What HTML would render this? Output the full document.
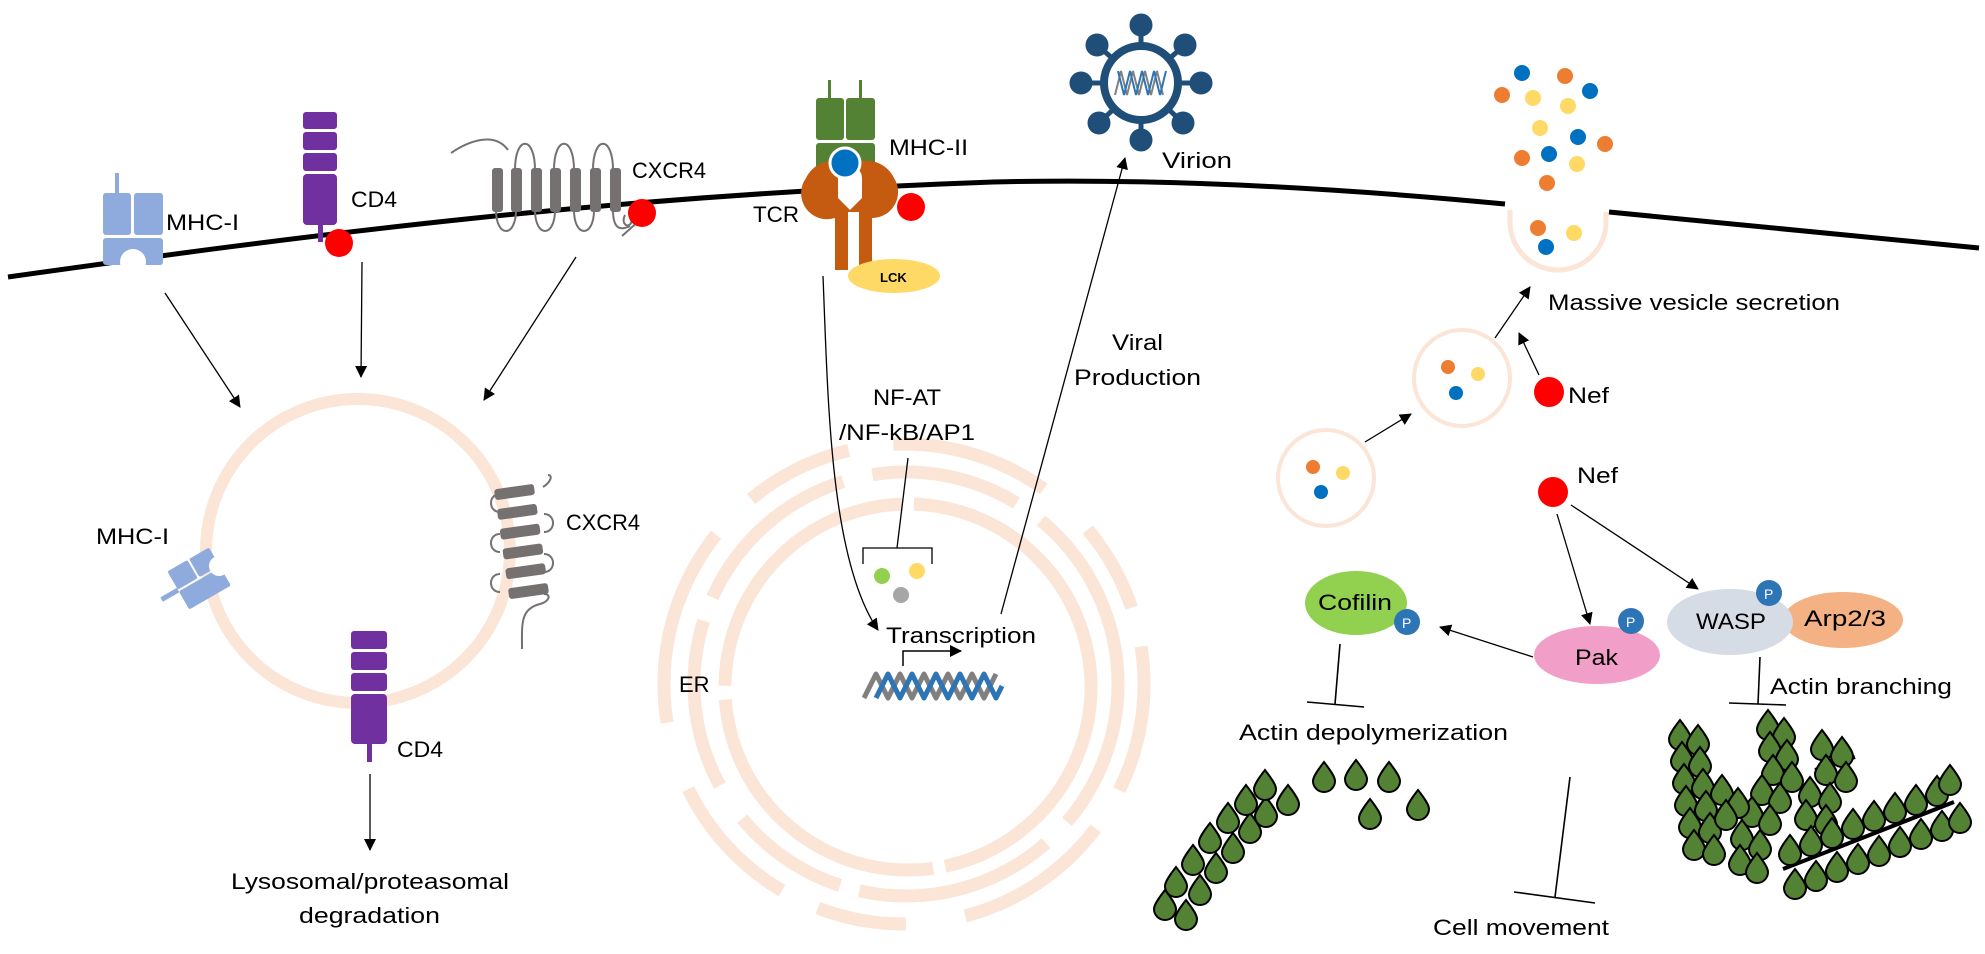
<!DOCTYPE html>
<html><head><style>
html,body{margin:0;padding:0;background:#fff}
svg{display:block}
svg text{font-family:"Liberation Sans",sans-serif;fill:#000;font-size:22px}
</style></head><body>
<svg width="1985" height="954" viewBox="0 0 1985 954" xmlns="http://www.w3.org/2000/svg">
<defs>
<marker id="a" markerWidth="12" markerHeight="12" refX="11" refY="6" orient="auto" markerUnits="userSpaceOnUse"><path d="M0,0L12,6L0,12z" fill="#000"/></marker>
<path id="leaf" d="M0,-15 C7,-6 11,0 11,4 A11,11 0 1 1 -11,4 C-11,0 -7,-6 0,-15z" fill="#548235" stroke="#000" stroke-width="2"/>
</defs>

<!-- membrane -->
<path d="M8,277 C300,236 600,196 993,182 C1200,177 1400,194 1505,204" fill="none" stroke="#000" stroke-width="5"/>
<path d="M1609,212 C1750,226 1880,238 1979,248" fill="none" stroke="#000" stroke-width="5"/>

<!-- endosome -->
<circle cx="358" cy="551" r="152" fill="none" stroke="#fbe5d6" stroke-width="12"/>

<!-- nucleus rings -->
<g fill="none" stroke="#fbe5d6" stroke-width="13">
<circle cx="908" cy="687" r="183" stroke-dasharray="250 12 300 14 280 12 300 14"/>
<circle cx="906" cy="684" r="212" stroke-dasharray="150 30 200 20 120 40 170 25 180 30"/>
<circle cx="904" cy="684" r="240" stroke-dasharray="110 45 160 60 90 40 140 70 200 50"/>
</g>
<text x="679" y="692">ER</text>

<!-- MHC-I membrane -->
<g fill="#8faadc">
<rect x="115" y="173" width="4" height="22"/>
<rect x="103" y="193" width="28" height="42" rx="3"/><rect x="134" y="193" width="29" height="42" rx="3"/>
<rect x="103" y="238" width="60" height="27" rx="3"/>
</g>
<circle cx="133" cy="262" r="13" fill="#fff"/>
<text x="166" y="230" textLength="73" lengthAdjust="spacingAndGlyphs">MHC-I</text>

<!-- CD4 -->
<g fill="#7030a0"><rect x="303" y="112" width="34" height="17" rx="3"/><rect x="303" y="132" width="34" height="18" rx="3"/><rect x="303" y="153" width="34" height="18" rx="3"/><rect x="303" y="174" width="34" height="51" rx="4"/><rect x="318" y="225" width="5" height="17"/></g>
<circle cx="339" cy="243" r="14" fill="#f00"/>
<text x="351" y="207" textLength="46" lengthAdjust="spacingAndGlyphs">CD4</text>

<!-- CXCR4 membrane -->
<path d="M451,153 C470,140 495,132 508,150 M515,170 C515,135 535,135 535,170 M554,170 C554,135 574,135 574,170 M593,170 C593,135 613,135 613,170 M496,210 C496,238 516,238 516,210 M535,210 C535,238 555,238 555,210 M574,210 C574,238 594,238 594,210 M613,210 C613,226 618,232 630,226 M625,215 C620,225 630,230 632,220 M640,220 L622,236" fill="none" stroke="#767171" stroke-width="2"/>
<g fill="#767171"><rect x="492" y="168" width="11" height="44" rx="3"/><rect x="511" y="168" width="11" height="44" rx="3"/><rect x="531" y="168" width="11" height="44" rx="3"/><rect x="550" y="168" width="11" height="44" rx="3"/><rect x="570" y="168" width="11" height="44" rx="3"/><rect x="590" y="168" width="11" height="44" rx="3"/><rect x="610" y="168" width="11" height="44" rx="3"/></g>
<circle cx="642" cy="213" r="14" fill="#f00"/>
<text x="632" y="178" textLength="74" lengthAdjust="spacingAndGlyphs">CXCR4</text>

<!-- MHC-II / TCR -->
<g fill="#548235"><rect x="828" y="80" width="3" height="20"/><rect x="859" y="80" width="3" height="20"/><rect x="816" y="98" width="28" height="42" rx="3"/><rect x="846" y="98" width="29" height="42" rx="3"/><rect x="816" y="143" width="59" height="30" rx="3"/></g>
<path d="M806,178 a30,30 0 0 1 44,-12 a30,30 0 0 1 44,12 a26,26 0 0 1 -22,40 l0,52 l-13,0 l0,-58 l-8,0 l-2,0 l0,58 l-14,0 l0,-52 a26,26 0 0 1 -29,-40z" fill="#c55a11"/>
<path d="M838,178 a12,12 0 0 1 24,0 l0,20 l-12,12 l-12,-12z" fill="#fff"/>
<rect x="848" y="212" width="2" height="58" fill="#fff"/>
<circle cx="845" cy="163" r="15" fill="#0070c0" stroke="#fff" stroke-width="3"/>
<circle cx="911" cy="207" r="14" fill="#f00"/>
<ellipse cx="894" cy="276" rx="46" ry="17" fill="#ffd966"/>
<text x="880" y="282" style="font-size:13px;font-weight:bold">LCK</text>
<text x="889" y="155" textLength="79" lengthAdjust="spacingAndGlyphs">MHC-II</text>
<text x="753" y="222" textLength="46" lengthAdjust="spacingAndGlyphs">TCR</text>

<!-- virion -->
<g stroke="#1f4e79" stroke-width="5" fill="#1f4e79">
<line x1="1141" y1="83" x2="1141" y2="25"/><line x1="1141" y1="83" x2="1097" y2="45"/><line x1="1141" y1="83" x2="1185" y2="45"/><line x1="1141" y1="83" x2="1081" y2="83"/><line x1="1141" y1="83" x2="1201" y2="83"/><line x1="1141" y1="83" x2="1099" y2="123"/><line x1="1141" y1="83" x2="1183" y2="123"/><line x1="1141" y1="83" x2="1141" y2="140"/>
<circle cx="1141" cy="25" r="9"/><circle cx="1097" cy="45" r="9"/><circle cx="1185" cy="45" r="9"/><circle cx="1081" cy="83" r="9"/><circle cx="1201" cy="83" r="9"/><circle cx="1099" cy="123" r="9"/><circle cx="1183" cy="123" r="9"/><circle cx="1141" cy="140" r="9"/>
</g>
<circle cx="1141" cy="83" r="37" fill="#fff" stroke="#1f4e79" stroke-width="8"/>
<path d="M1115,95 l6,-24 l6,24 l6,-24 l6,24 l6,-24 l6,24 l6,-24 l6,24" fill="none" stroke="#808080" stroke-width="2"/>
<path d="M1118,71 l6,24 l6,-24 l6,24 l6,-24 l6,24 l6,-24 l6,24 l6,-24" fill="none" stroke="#2e75b6" stroke-width="2"/>
<text x="1162" y="168" textLength="70" lengthAdjust="spacingAndGlyphs">Virion</text>

<!-- secretion -->
<path d="M1510,210 L1510,222 A48,48 0 0 0 1606,222 L1606,212" fill="none" stroke="#fbe5d6" stroke-width="5"/>
<g>
<circle cx="1522" cy="73" r="8" fill="#0070c0"/><circle cx="1565" cy="76" r="8" fill="#ed7d31"/><circle cx="1590" cy="91" r="8" fill="#0070c0"/><circle cx="1502" cy="95" r="8" fill="#ed7d31"/><circle cx="1533" cy="98" r="8" fill="#ffd966"/><circle cx="1568" cy="106" r="8" fill="#ffd966"/><circle cx="1540" cy="128" r="8" fill="#ffd966"/><circle cx="1578" cy="137" r="8" fill="#0070c0"/><circle cx="1605" cy="144" r="8" fill="#ed7d31"/><circle cx="1522" cy="158" r="8" fill="#ed7d31"/><circle cx="1549" cy="154" r="8" fill="#0070c0"/><circle cx="1577" cy="164" r="8" fill="#ffd966"/><circle cx="1547" cy="183" r="8" fill="#ed7d31"/>
<circle cx="1538" cy="228" r="8" fill="#ed7d31"/><circle cx="1574" cy="233" r="8" fill="#ffd966"/><circle cx="1546" cy="247" r="8" fill="#0070c0"/>
</g>
<text x="1548" y="310" textLength="292" lengthAdjust="spacingAndGlyphs">Massive vesicle secretion</text>
<circle cx="1462" cy="378" r="48" fill="none" stroke="#fbe5d6" stroke-width="4"/>
<circle cx="1448" cy="367" r="7" fill="#ed7d31"/><circle cx="1478" cy="374" r="7" fill="#ffd966"/><circle cx="1456" cy="393" r="7" fill="#0070c0"/>
<circle cx="1326" cy="478" r="48" fill="none" stroke="#fbe5d6" stroke-width="4"/>
<circle cx="1313" cy="467" r="7" fill="#ed7d31"/><circle cx="1343" cy="473" r="7" fill="#ffd966"/><circle cx="1321" cy="492" r="7" fill="#0070c0"/>
<circle cx="1549" cy="392" r="15" fill="#f00"/><text x="1568" y="403" textLength="41" lengthAdjust="spacingAndGlyphs">Nef</text>
<circle cx="1553" cy="492" r="15" fill="#f00"/><text x="1577" y="483" textLength="41" lengthAdjust="spacingAndGlyphs">Nef</text>

<!-- proteins -->
<ellipse cx="1356" cy="603" rx="51" ry="32" fill="#92d050"/>
<text x="1318" y="610" textLength="74" lengthAdjust="spacingAndGlyphs">Cofilin</text>
<circle cx="1407" cy="622" r="13" fill="#2e75b6"/><text x="1402" y="628" style="font-size:14px;fill:#fff">P</text>
<ellipse cx="1597" cy="655" rx="63" ry="29" fill="#f19fc8"/>
<text x="1575" y="665" textLength="43" lengthAdjust="spacingAndGlyphs">Pak</text>
<circle cx="1631" cy="621" r="13" fill="#2e75b6"/><text x="1626" y="627" style="font-size:14px;fill:#fff">P</text>
<ellipse cx="1843" cy="620" rx="60" ry="28" fill="#f4b183"/>
<ellipse cx="1730" cy="622" rx="63" ry="33" fill="#d6dce5"/>
<text x="1696" y="629" textLength="70" lengthAdjust="spacingAndGlyphs">WASP</text>
<text x="1804" y="626" textLength="82" lengthAdjust="spacingAndGlyphs">Arp2/3</text>
<circle cx="1769" cy="593" r="13" fill="#2e75b6"/><text x="1764" y="599" style="font-size:14px;fill:#fff">P</text>
<text x="1770" y="694" textLength="182" lengthAdjust="spacingAndGlyphs">Actin branching</text>
<text x="1239" y="740" textLength="269" lengthAdjust="spacingAndGlyphs">Actin depolymerization</text>
<text x="1433" y="935" textLength="176" lengthAdjust="spacingAndGlyphs">Cell movement</text>

<!-- endosome contents -->
<text x="96" y="544" textLength="73" lengthAdjust="spacingAndGlyphs">MHC-I</text>
<g transform="translate(200,578) rotate(-30)" fill="#8faadc"><rect x="-25" y="-22" width="23" height="21" rx="2"/><rect x="0" y="-22" width="23" height="21" rx="2"/><rect x="-25" y="1" width="48" height="21" rx="2"/><rect x="-44" y="-3" width="19" height="5"/></g>
<circle cx="219" cy="566" r="10" fill="#fff"/>
<path d="M543,487 c8,-5 10,-12 5,-12 M500,494 c-12,0 -12,18 0,18 M544,514 c12,0 12,18 0,18 M500,534 c-12,0 -12,18 0,18 M544,554 c12,0 12,18 0,18 M500,574 c-12,0 -12,18 0,18 M544,594 c8,0 5,8 -4,10 c-20,5 -18,20 -18,45" fill="none" stroke="#767171" stroke-width="2"/>
<g fill="#767171" transform="rotate(-8 522 545)"><rect x="502" y="486" width="40" height="11" rx="3"/><rect x="502" y="506" width="40" height="11" rx="3"/><rect x="502" y="526" width="40" height="11" rx="3"/><rect x="502" y="546" width="40" height="11" rx="3"/><rect x="502" y="566" width="40" height="11" rx="3"/><rect x="502" y="586" width="40" height="11" rx="3"/></g>
<text x="566" y="530" textLength="74" lengthAdjust="spacingAndGlyphs">CXCR4</text>
<g fill="#7030a0"><rect x="351" y="631" width="36" height="18" rx="3"/><rect x="351" y="652" width="36" height="18" rx="3"/><rect x="351" y="673" width="36" height="18" rx="3"/><rect x="351" y="694" width="36" height="50" rx="4"/><rect x="367" y="744" width="5" height="18"/></g>
<text x="397" y="757" textLength="46" lengthAdjust="spacingAndGlyphs">CD4</text>
<text x="231" y="889" textLength="278" lengthAdjust="spacingAndGlyphs">Lysosomal/proteasomal</text>
<text x="299" y="923" textLength="141" lengthAdjust="spacingAndGlyphs">degradation</text>

<!-- nucleus contents -->
<text x="873" y="405" textLength="68" lengthAdjust="spacingAndGlyphs">NF-AT</text>
<text x="839" y="440" textLength="136" lengthAdjust="spacingAndGlyphs">/NF-kB/AP1</text>
<text x="1112" y="350" textLength="51" lengthAdjust="spacingAndGlyphs">Viral</text>
<text x="1074" y="385" textLength="127" lengthAdjust="spacingAndGlyphs">Production</text>
<text x="886" y="643" textLength="150" lengthAdjust="spacingAndGlyphs">Transcription</text>
<path d="M863,564 l0,-16 l69,0 l0,16 M897,548 L908,458" fill="none" stroke="#000" stroke-width="1.3"/>
<circle cx="882" cy="576" r="8" fill="#92d050"/><circle cx="917" cy="571" r="8" fill="#ffd966"/><circle cx="901" cy="595" r="8" fill="#a6a6a6"/>
<path d="M864,698 l12,-24 l12,24 l12,-24 l12,24 l12,-24 l12,24 l12,-24 l12,24 l12,-24 l12,24 l12,-24" fill="none" stroke="#808080" stroke-width="5" stroke-linejoin="round"/>
<path d="M876,698 l12,-24 l12,24 l12,-24 l12,24 l12,-24 l12,24 l12,-24 l12,24 l12,-24 l12,24 l6,-12" fill="none" stroke="#2e75b6" stroke-width="5" stroke-linejoin="round"/>
<path d="M903,666 l0,-15 l58,0" fill="none" stroke="#000" stroke-width="1.5" marker-end="url(#a)"/>

<!-- arrows -->
<g stroke="#000" stroke-width="1.3" fill="none" marker-end="url(#a)">
<line x1="165" y1="293" x2="240" y2="407"/>
<line x1="362" y1="262" x2="361" y2="377"/>
<line x1="576" y1="257" x2="484" y2="400"/>
<line x1="370" y1="774" x2="370" y2="850"/>
<path d="M823,276 C828,400 830,560 878,630"/>
<line x1="1001" y1="614" x2="1125" y2="158"/>
<line x1="1365" y1="442" x2="1411" y2="414"/>
<line x1="1495" y1="338" x2="1530" y2="287"/>
<line x1="1539" y1="375" x2="1519" y2="333"/>
<line x1="1557" y1="514" x2="1590" y2="624"/>
<line x1="1571" y1="505" x2="1698" y2="589"/>
<line x1="1533" y1="657" x2="1440" y2="627"/>
</g>
<g stroke="#000" stroke-width="1.6">
<line x1="1340" y1="644" x2="1335" y2="704"/><line x1="1307" y1="702" x2="1364" y2="707"/>
<line x1="1570" y1="777" x2="1555" y2="897"/><line x1="1514" y1="892" x2="1595" y2="903"/>
<line x1="1760" y1="657" x2="1758" y2="704"/><line x1="1729" y1="703" x2="1786" y2="705"/>
</g>

<!-- left actin -->
<g>
<use href="#leaf" x="1324" y="777"/><use href="#leaf" x="1356" y="775"/><use href="#leaf" x="1389" y="777"/><use href="#leaf" x="1370" y="814"/><use href="#leaf" x="1418" y="805"/>
<use href="#leaf" x="1165" y="905"/><use href="#leaf" x="1186" y="915"/><use href="#leaf" x="1176" y="882"/><use href="#leaf" x="1200" y="890"/><use href="#leaf" x="1193" y="860"/><use href="#leaf" x="1216" y="868"/><use href="#leaf" x="1210" y="838"/><use href="#leaf" x="1233" y="848"/><use href="#leaf" x="1228" y="818"/><use href="#leaf" x="1250" y="828"/><use href="#leaf" x="1246" y="800"/><use href="#leaf" x="1266" y="812"/><use href="#leaf" x="1265" y="785"/><use href="#leaf" x="1288" y="800"/>
</g>
<!-- right actin -->
<g>
<line x1="1783" y1="869" x2="1954" y2="802" stroke="#000" stroke-width="4"/>
<line x1="1815" y1="770" x2="1855" y2="757" stroke="#000" stroke-width="4"/>
<line x1="1700" y1="830" x2="1770" y2="800" stroke="#000" stroke-width="3"/>
<use href="#leaf" x="1680" y="735"/><use href="#leaf" x="1698" y="740"/><use href="#leaf" x="1682" y="757"/><use href="#leaf" x="1700" y="762"/><use href="#leaf" x="1684" y="779"/><use href="#leaf" x="1703" y="784"/><use href="#leaf" x="1686" y="801"/><use href="#leaf" x="1706" y="806"/><use href="#leaf" x="1690" y="823"/><use href="#leaf" x="1710" y="828"/><use href="#leaf" x="1694" y="845"/><use href="#leaf" x="1714" y="850"/>
<use href="#leaf" x="1768" y="725"/><use href="#leaf" x="1784" y="733"/><use href="#leaf" x="1770" y="747"/><use href="#leaf" x="1787" y="755"/><use href="#leaf" x="1773" y="770"/><use href="#leaf" x="1792" y="777"/><use href="#leaf" x="1762" y="790"/><use href="#leaf" x="1780" y="798"/><use href="#leaf" x="1752" y="812"/><use href="#leaf" x="1770" y="820"/><use href="#leaf" x="1742" y="835"/><use href="#leaf" x="1760" y="845"/><use href="#leaf" x="1740" y="860"/><use href="#leaf" x="1757" y="868"/>
<use href="#leaf" x="1822" y="745"/><use href="#leaf" x="1842" y="752"/><use href="#leaf" x="1826" y="770"/><use href="#leaf" x="1846" y="777"/><use href="#leaf" x="1810" y="792"/><use href="#leaf" x="1830" y="798"/><use href="#leaf" x="1806" y="815"/><use href="#leaf" x="1826" y="820"/>
<use href="#leaf" x="1722" y="790"/><use href="#leaf" x="1738" y="803"/><use href="#leaf" x="1726" y="815"/>
<use href="#leaf" x="1790" y="850"/><use href="#leaf" x="1811" y="841"/><use href="#leaf" x="1832" y="833"/><use href="#leaf" x="1853" y="824"/><use href="#leaf" x="1874" y="816"/><use href="#leaf" x="1895" y="808"/><use href="#leaf" x="1916" y="800"/><use href="#leaf" x="1937" y="791"/><use href="#leaf" x="1950" y="780"/>
<use href="#leaf" x="1795" y="884"/><use href="#leaf" x="1816" y="876"/><use href="#leaf" x="1837" y="867"/><use href="#leaf" x="1858" y="859"/><use href="#leaf" x="1879" y="851"/><use href="#leaf" x="1900" y="842"/><use href="#leaf" x="1921" y="834"/><use href="#leaf" x="1942" y="826"/><use href="#leaf" x="1960" y="818"/>
</g>
</svg>
</body></html>
